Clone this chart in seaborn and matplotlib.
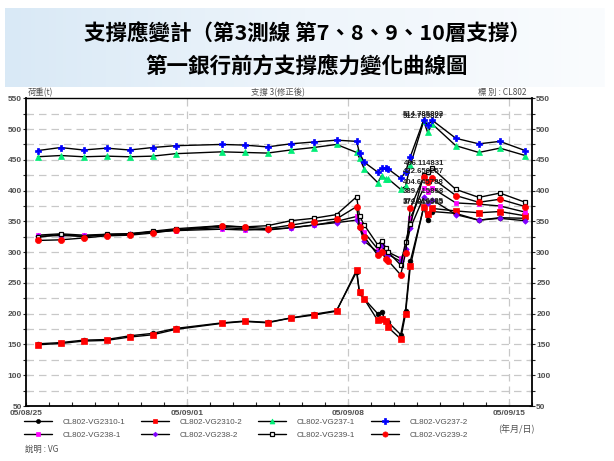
import numpy as np
import pandas as pd
import matplotlib
matplotlib.use("Agg")
import matplotlib.pyplot as plt
import matplotlib.dates as mdates
from matplotlib.lines import Line2D
from matplotlib.colors import LinearSegmentedColormap
import seaborn as sns

# ---- data -------------------------------------------------------------
times = [
    "2005-08-25 12:00", "2005-08-26 12:00", "2005-08-27 12:00", "2005-08-28 12:00",
    "2005-08-29 12:00", "2005-08-30 12:00", "2005-08-31 12:00",
    "2005-09-02 12:00", "2005-09-03 12:00", "2005-09-04 12:00", "2005-09-05 12:00",
    "2005-09-06 12:00", "2005-09-07 12:00",
    "2005-09-08 09:00", "2005-09-08 12:00", "2005-09-08 17:00",
    "2005-09-09 07:00", "2005-09-09 11:00", "2005-09-09 15:30", "2005-09-09 18:00",
    "2005-09-10 07:00", "2005-09-10 12:00", "2005-09-10 17:00",
    "2005-09-11 07:00", "2005-09-11 11:00", "2005-09-11 16:00",
    "2005-09-12 16:30", "2005-09-13 16:30", "2005-09-14 14:30", "2005-09-15 17:00",
]

vg2310_1 = [151, 153, 157, 158, 164, 168, 176, 185, 188, 186, 193, 199,
            205, 268, 233, 224, 200, 203, 188, 186, 166, 205, 285,
            372.819585, 353, 366, 363, 352, 356, 355]
vg2310_2 = [149.5, 151.6, 155.5, 156.6, 162, 165.7, 174.4, 184.2, 187.4, 185.2, 192.8, 197.7,
            204, 271, 234.5, 223.7, 189, 191, 187.4, 177.6, 159, 199.4, 276.7,
            374.016385, 362, 371, 367, 364, 366, 359]
vg237_1 = [455, 457, 455, 456, 455, 456, 460, 463, 462, 461, 466, 470,
           475, 462, 453, 435, 413, 424, 419, 419, 402, 407, 441,
           512.795827, 495, 508, 473, 462, 469, 457]
vg237_2 = [465, 470, 466, 469, 466, 470, 473, 475, 474, 471, 476, 479,
           482, 480, 461, 446, 430, 436, 436, 435, 420, 430, 455,
           514.785802, 506, 514.2, 485, 476, 480, 465]
vg238_1 = [327.6, 329.8, 327.6, 329, 329.8, 333, 335, 337.3, 336, 337, 339.6, 343.8,
           350, 358, 345, 332, 305, 310, 304, 300, 290, 302, 355,
           404.645788, 398, 404, 380, 378, 375, 365]
vg238_2 = [326, 327, 326, 328, 329, 333, 336, 340, 338, 336, 339.5, 344,
           348, 352, 340, 318, 300, 312, 297, 296, 285, 305, 339,
           389.715858, 380, 385, 361, 352, 355, 351]
vg239_1 = [324, 329, 325, 329, 330, 334, 338, 343, 341, 343, 351, 355,
           361, 390, 359, 344, 312, 318, 306, 300, 279, 316, 345,
           425, 430, 436.114831, 402, 389, 396, 381]
vg239_2 = [319, 320, 323, 326.5, 327.6, 331, 336, 342.7, 340.6, 338.3, 343.8, 349.7,
           354, 374, 341, 325, 295, 300, 289, 286, 263, 298, 371,
           422.650257, 414, 420, 392, 381, 386, 374]

series_names = ["CL802-VG2310-1", "CL802-VG2310-2", "CL802-VG237-1", "CL802-VG237-2",
                "CL802-VG238-1", "CL802-VG238-2", "CL802-VG239-1", "CL802-VG239-2"]
series_values = [vg2310_1, vg2310_2, vg237_1, vg237_2, vg238_1, vg238_2, vg239_1, vg239_2]

y_ticks = [50, 100, 150, 200, 250, 300, 350, 400, 450, 500, 550]
x_tick_dates = ["2005-08-25", "2005-09-01", "2005-09-08", "2005-09-15"]
x_tick_labels = ["05/08/25", "05/09/01", "05/09/08", "05/09/15"]

# ---- styles -----------------------------------------------------------
styles = {
    "CL802-VG2310-1": dict(marker="o", mfc="black", mec="black", ms=3.4),
    "CL802-VG2310-2": dict(marker="s", mfc="#ff0000", mec="#ff0000", ms=3.8),
    "CL802-VG237-1": dict(marker="^", mfc="#00ee77", mec="#00ee77", ms=4.2),
    "CL802-VG237-2": dict(marker="P", mfc="#0000ff", mec="#0000ff", ms=5.0),
    "CL802-VG238-1": dict(marker="s", mfc="#ff00ff", mec="#ff00ff", ms=3.4),
    "CL802-VG238-2": dict(marker="D", mfc="#8000ff", mec="#8000ff", ms=2.8),
    "CL802-VG239-1": dict(marker="s", mfc="white", mec="black", ms=3.4, mew=0.9),
    "CL802-VG239-2": dict(marker="o", mfc="#ff0000", mec="#ff0000", ms=4.4),
}

sns.set_style("white")
plt.rcParams["font.family"] = ["Liberation Sans", "Noto Sans CJK TC"]
cjk = ["Noto Sans CJK TC", "Liberation Sans"]
grey_txt = "#505050"

W, H = 614, 461
fig = plt.figure(figsize=(W / 100, H / 100), dpi=100)
fig.patch.set_facecolor("white")

# title banner with a soft blue gradient
bax = fig.add_axes([5 / W, 1 - 87 / H, 600 / W, 79 / H])
grad = np.linspace(0, 1, 256)[None, :]
cmap = LinearSegmentedColormap.from_list("banner", ["#d9e9f6", "#eef5fb", "#fafcfe"])
bax.imshow(grad, aspect="auto", cmap=cmap, extent=[0, 1, 0, 1])
bax.set_axis_off()
fig.text(0.5, 1 - 34 / H, "支撐應變計（第3測線 第7、8、9、10層支撐）",
         ha="center", va="center", fontsize=15.5, fontweight="bold", family=cjk, color="black")
fig.text(0.5, 1 - 67 / H, "第一銀行前方支撐應力變化曲線圖",
         ha="center", va="center", fontsize=15.5, fontweight="bold", family=cjk, color="black")

# ---- main axes --------------------------------------------------------
ax = fig.add_axes([26 / W, 1 - 406 / H, (532 - 26) / W, (406 - 98.3) / H])
t = pd.to_datetime(times)

for name, vals in zip(series_names, series_values):
    st = styles[name]
    sns.lineplot(x=t, y=vals, ax=ax, color="black", linewidth=1.0, estimator=None,
                 sort=False, marker=st["marker"], markerfacecolor=st["mfc"],
                 markeredgecolor=st["mec"], markersize=st["ms"],
                 markeredgewidth=st.get("mew", 0.5), zorder=3)

# peak values written above the curves
label_x = t[23]
for name, vals in zip(series_names, series_values):
    vmax = max(vals)
    ax.annotate(f"{vmax:.6f}", xy=(label_x, vmax), xytext=(0, 1.2),
                textcoords="offset points", ha="center", va="bottom",
                fontsize=5.6, fontweight="bold", color="#222222", zorder=5)

ax.set_xlim(pd.Timestamp("2005-08-25"), pd.Timestamp("2005-09-16"))
ax.set_ylim(50, 550)
ax.set_xlabel("")
ax.set_ylabel("")

ax.set_yticks(y_ticks)
ax.set_yticks(np.arange(75, 550, 50), minor=True)
ax.set_yticklabels([str(v) for v in y_ticks])
ax.set_xticks(pd.to_datetime(x_tick_dates))
ax.set_xticklabels(x_tick_labels)
ax.xaxis.set_minor_locator(mdates.DayLocator())

ax.tick_params(axis="y", which="both", left=True, right=True, labelleft=True,
               labelright=True, direction="inout", length=4, width=0.8,
               labelsize=6, labelcolor=grey_txt, pad=1)
ax.tick_params(axis="x", which="both", bottom=True, direction="in", length=3,
               width=0.8, labelsize=6, labelcolor=grey_txt, pad=3)
for lab in ax.get_xticklabels() + ax.get_yticklabels():
    lab.set_fontweight("bold")

# dashed grid
for v in np.arange(75, 550, 25):
    ax.axhline(v, color="#c8c8c8", lw=0.9, ls=(0, (6, 4)), zorder=1)
for d in x_tick_dates[1:]:
    ax.axvline(pd.Timestamp(d), color="#c8c8c8", lw=0.9, ls=(0, (6, 4)), zorder=1)

for side in ["left", "right", "top", "bottom"]:
    ax.spines[side].set_visible(True)
    ax.spines[side].set_color("black")
ax.spines["left"].set_linewidth(1.3)
ax.spines["bottom"].set_linewidth(1.3)
ax.spines["right"].set_linewidth(1.3)
ax.spines["top"].set_linewidth(1.0)

# header texts above the plot frame
fig.text(28 / W, 1 - 95 / H, "荷重(t)", fontsize=6, color=grey_txt, family=cjk,
         ha="left", va="baseline")
fig.text(278 / W, 1 - 95 / H, "支撐 3(修正後)", fontsize=6, color=grey_txt, family=cjk,
         ha="center", va="baseline")
fig.text(527 / W, 1 - 95 / H, "標 別 : CL802", fontsize=6, color=grey_txt, family=cjk,
         ha="right", va="baseline")

# ---- legend -----------------------------------------------------------
handles = {}
for name in series_names:
    st = styles[name]
    handles[name] = Line2D([], [], color="black", lw=1.0, marker=st["marker"],
                           markerfacecolor=st["mfc"], markeredgecolor=st["mec"],
                           markersize=st["ms"] * 0.85, markeredgewidth=st.get("mew", 0.5))
order = ["CL802-VG2310-1", "CL802-VG238-1", "CL802-VG2310-2", "CL802-VG238-2",
         "CL802-VG237-1", "CL802-VG239-1", "CL802-VG237-2", "CL802-VG239-2"]
leg = fig.legend([handles[n] for n in order], order, ncol=4, frameon=False,
                 loc="upper left", bbox_to_anchor=(24 / W, 1 - 418.5 / H),
                 fontsize=5.8, handlelength=3.5, handletextpad=1.25,
                 columnspacing=2.0, labelspacing=0.65, borderaxespad=0, borderpad=0)
for txt in leg.get_texts():
    txt.set_color(grey_txt)

fig.text(498 / W, 1 - 429 / H, "(年月/日)", fontsize=6.5, color=grey_txt, family=cjk,
         ha="left", va="center")
fig.text(25 / W, 1 - 449 / H, "說明 : VG", fontsize=6, color=grey_txt, family=cjk,
         ha="left", va="center")

fig.savefig("out.png", dpi=100)
